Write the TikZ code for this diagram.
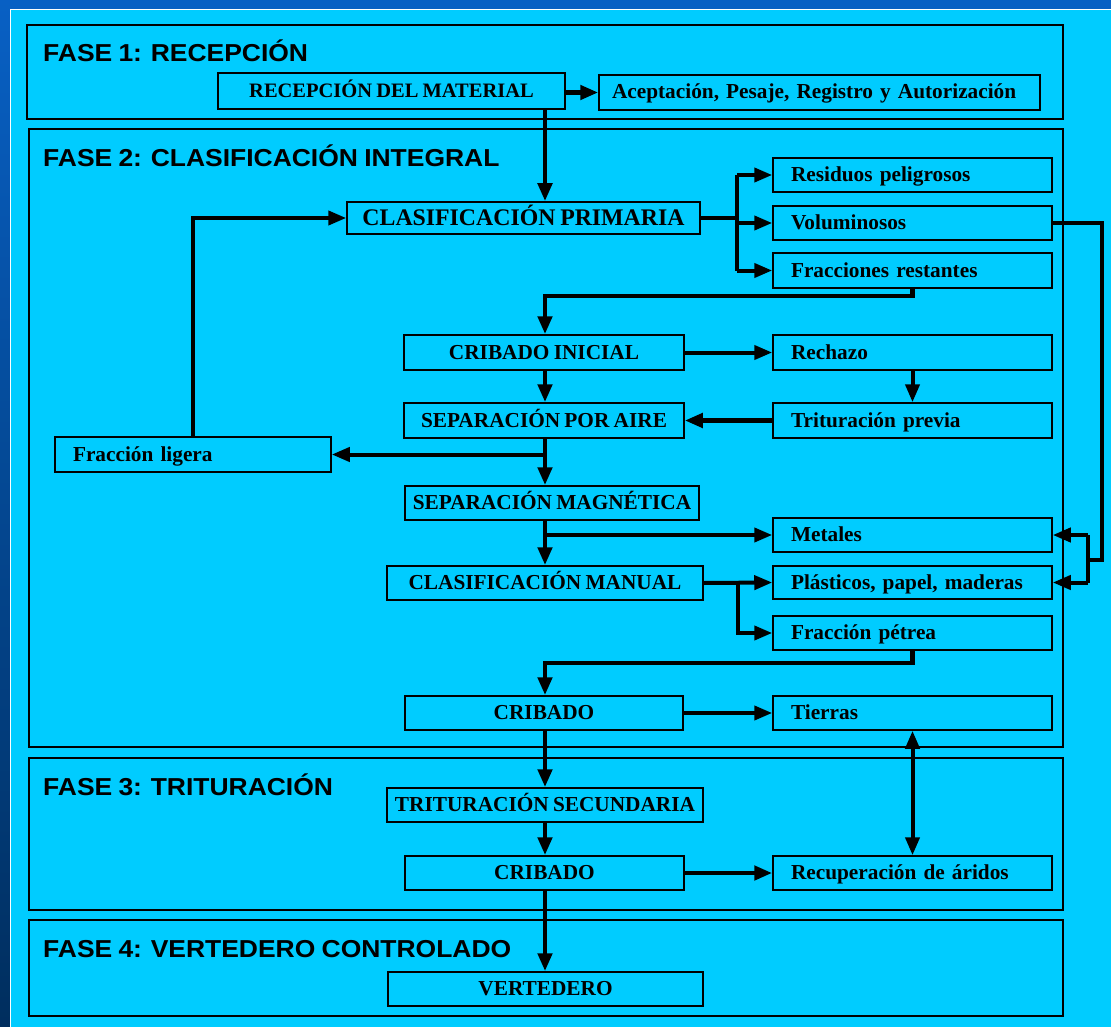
\documentclass[tikz,border=0pt]{standalone}
\usepackage{fontspec}
\setmainfont{Liberation Serif}[WordSpace=0.8]
\newfontfamily\phasefont[FakeStretch=1.08,WordSpace=0.85]{Liberation Sans}
\usetikzlibrary{arrows.meta}
\definecolor{bgtop}{RGB}{8,96,196}
\definecolor{bgbot}{RGB}{0,46,94}
\definecolor{sky}{RGB}{0,204,255}

\tikzset{
  box/.style={draw, line width=1.5pt, minimum height=34pt, inner sep=0pt,
    text height=15pt, text depth=2pt,
    font=\bfseries\fontsize{21.3}{24}\selectfont},
  lbox/.style={box, text width=243pt, inner xsep=18pt, align=left},
  phase/.style={draw, line width=1.5pt},
  title/.style={anchor=base west, inner sep=0pt,
    font=\phasefont\bfseries\fontsize{24.5}{28}\selectfont},
  >={Triangle[length=18pt,width=14pt]},
  link/.style={line width=4pt},
  flow/.style={link, ->},
  dflow/.style={line width=4.6pt, ->},
  flowboth/.style={link, <->},
}

\begin{document}
\begin{tikzpicture}[x=1pt,y=-1pt]
    \useasboundingbox (0,0) rectangle (1111,1027);

    % Background
    \fill[top color=bgtop, bottom color=bgbot] (0,0) rectangle (1111,1027);
    \fill[sky] (10,9) rectangle (1111,1027);
    \draw[white, line width=1pt] (10.5,1027) -- (10.5,9.5) -- (1111,9.5);

    % Phases
    \draw[phase] (27,25) rectangle (1063,119);
    \draw[phase] (29,129) rectangle (1063,747);
    \draw[phase] (29,758) rectangle (1063,910);
    \draw[phase] (29,920) rectangle (1063,1016);
    \node[title] (t1) at (43,62) {FASE 1: RECEPCIÓN};
    \node[title] (t2) at (43,167) {FASE 2: CLASIFICACIÓN INTEGRAL};
    \node[title] (t3) at (43,795) {FASE 3: TRITURACIÓN};
    \node[title] (t4) at (43,957) {FASE 4: VERTEDERO CONTROLADO};

    % Phase 1
    \node[box, minimum width=347pt, minimum height=36pt, font=\bfseries\fontsize{20.5}{24}\selectfont] (rm) at (391.5,91) {RECEPCIÓN DEL MATERIAL};
    \node[box, text width=415pt, inner xsep=13pt, align=left, minimum height=35pt] (acep) at (819.5,92.5) {Aceptación, Pesaje, Registro y Autorización};

    % Phase 2
    \node[box, minimum width=353pt, minimum height=32pt, text height=16.5pt, font=\bfseries\fontsize{23.8}{26}\selectfont] (cp) at (523.5,218) {CLASIFICACIÓN PRIMARIA};
    \node[lbox] (resid) at (912.5,175) {Residuos peligrosos};
    \node[lbox] (volum) at (912.5,223) {Voluminosos};
    \node[lbox, minimum height=35pt] (fracr) at (912.5,270.5) {Fracciones restantes};
    \node[box, minimum width=280pt, minimum height=35pt] (ci) at (544,352.5) {CRIBADO INICIAL};
    \node[lbox, minimum height=35pt] (rech) at (912.5,352.5) {Rechazo};
    \node[lbox, minimum height=35pt] (trit) at (912.5,420.5) {Trituración previa};
    \node[box, minimum width=280pt, minimum height=35pt] (spa) at (544,420.5) {SEPARACIÓN POR AIRE};
    \node[box, text width=240pt, inner xsep=18pt, align=left, minimum height=35pt] (flig) at (193,454.5) {Fracción ligera};
    \node[box, minimum width=294pt] (sm) at (552,503) {SEPARACIÓN MAGNÉTICA};
    \node[lbox] (met) at (912.5,535) {Metales};
    \node[box, minimum width=316pt] (cm) at (545,583) {CLASIFICACIÓN MANUAL};
    \node[lbox, minimum height=33pt] (plas) at (912.5,582.5) {Plásticos, papel, maderas};
    \node[lbox] (pet) at (912.5,633) {Fracción pétrea};
    \node[box, minimum width=278pt] (crib) at (544,713) {CRIBADO};
    \node[lbox] (tier) at (912.5,713) {Tierras};

    % Phase 3
    \node[box, minimum width=316pt] (ts) at (545,805) {TRITURACIÓN SECUNDARIA};
    \node[box, minimum width=279pt] (crib2) at (544.5,873) {CRIBADO};
    \node[lbox] (recup) at (912.5,873) {Recuperación de áridos};

    % Phase 4
    \node[box, minimum width=315pt] (vert) at (545.5,989) {VERTEDERO};

    % Helper coordinates
    \coordinate (spine) at (545,0);
    \coordinate (br1) at (737,0);
    \coordinate (br2) at (738,0);
    \coordinate (br3) at (1088,0);
    \coordinate (lp) at (1102,560);
    \coordinate (j1) at (0,296);
    \coordinate (j2) at (0,663);

    % Main line
    \draw[dflow] (rm.south -| spine) -- (cp.north -| spine);
    \draw[dflow] (rm.east |- acep.west) -- (acep.west);
    \draw[dflow] (fracr.south) -- (fracr.south |- j1) -- (j1 -| spine) -- (ci.north -| spine);
    \draw[dflow] (ci.south -| spine) -- (spa.north -| spine);
    \draw[dflow] (spa.south -| spine) -- (sm.north -| spine);
    \draw[dflow] (sm.south -| spine) -- (cm.north -| spine);
    \draw[dflow] (pet.south) -- (pet.south |- j2) -- (j2 -| spine) -- (crib.north -| spine);
    \draw[dflow] (crib.south -| spine) -- (ts.north -| spine);
    \draw[dflow] (ts.south -| spine) -- (crib2.north -| spine);
    \draw[dflow] (crib2.south -| spine) -- (vert.north -| spine);

    % Primary sorting branches
    \draw[link] (cp.east) -- (cp.east -| br1);
    \draw[link] (resid.west -| br1) -- (fracr.west -| br1);
    \draw[flow] (resid.west -| br1) -- (resid.west);
    \draw[flow] (volum.west -| br1) -- (volum.west);
    \draw[flow] (fracr.west -| br1) -- (fracr.west);

    % Screening and air separation
    \draw[flow] (ci.east) -- (rech.west);
    \draw[flow] (rech.south) -- (trit.north);
    \draw[dflow] (trit.west) -- (spa.east);
    \draw[flow] (spine |- flig.east) -- (flig.east);
    \draw[flow] (flig.north) |- (cp.west);

    % Magnetic and manual sorting
    \draw[flow] (spine |- met.west) -- (met.west);
    \draw[flow] (cm.east) -- (plas.west);
    \draw[flow] (cm.east -| br2) |- (pet.west);

    % Bulky waste loop
    \draw[link] (volum.east) -| (lp) -- (lp -| br3);
    \draw[link] (met.east -| br3) -- (plas.east -| br3);
    \draw[flow] (met.east -| br3) -- (met.east);
    \draw[flow] (plas.east -| br3) -- (plas.east);

    % Final screening
    \draw[flow] (crib.east) -- (tier.west);
    \draw[dflow] (crib2.east) -- (recup.west);
    \draw[flowboth] (tier.south) -- (recup.north);

\end{tikzpicture}
\end{document}
